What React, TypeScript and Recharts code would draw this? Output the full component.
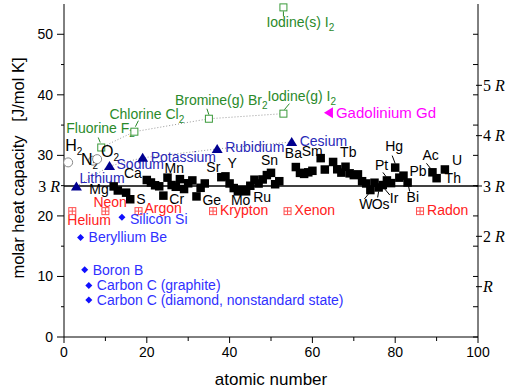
import React from "react";
import { ScatterChart, Scatter, XAxis, YAxis, ReferenceLine } from "recharts";

const R = 8.314;

// diatomic gases H2, N2, O2 (open grey circles)
const gasZ = [1, 7, 8];
const gasCp = [28.84, 29.12, 29.38];
const gasName = ["H_2", "N_2", "O_2"];

// gaseous halogens (open green squares, dotted guide)
const halogenZ = [9, 17, 35, 53];
const halogenCp = [31.3, 33.91, 36.05, 36.89];
const halogenName = ["Fluorine F_2", "Chlorine Cl_2", "Bromine(g) Br_2", "Iodine(g) I_2"];

const iodineSolidZ = [53];
const iodineSolidCp = [54.44];
const iodineSolidName = ["Iodine(s) I_2"];

// noble gases
const nobleZ = [2, 10, 18, 36, 54, 86];
const nobleCp = [20.79, 20.79, 20.79, 20.79, 20.79, 20.79];
const nobleName = ["Helium", "Neon", "Argon", "Krypton", "Xenon", "Radon"];

// alkali metals
const alkaliZ = [3, 11, 19, 37, 55];
const alkaliCp = [24.86, 28.23, 29.6, 31.06, 32.21];
const alkaliName = ["Lithium", "Sodium", "Potassium", "Rubidium", "Cesium"];

// light covalent solids
const covalentZ = [4, 5, 6, 6, 14];
const covalentCp = [16.44, 11.09, 8.52, 6.11, 19.79];
const covalentName = [
  "Beryllium Be",
  "Boron B",
  "Carbon C (graphite)",
  "Carbon C (diamond, nonstandard state)",
  "Silicon Si",
];

const gdZ = [64];
const gdCp = [37.03];
const gdName = ["Gadolinium Gd"];

// other solid elements (black squares)
const metalZ = [
  12, 13, 15, 16, 20, 21, 22, 23, 24, 25, 26, 27, 28, 29, 30, 31, 32, 33, 34,
  38, 39, 40, 41, 42, 43, 44, 45, 46, 47, 48, 49, 50, 51, 52,
  56, 57, 58, 59, 60, 62, 63, 65, 66, 67, 68, 69, 70, 71, 72, 73, 74, 75, 76,
  77, 78, 79, 80, 81, 82, 83, 89, 90, 92,
];
const metalCp = [
  24.87, 24.2, 23.84, 22.75, 25.93, 25.52, 25.06, 24.89, 23.35, 26.32, 25.1,
  24.81, 26.07, 24.44, 25.39, 25.86, 23.22, 24.64, 25.36,
  26.4, 26.53, 25.36, 24.6, 24.06, 24.27, 24.06, 24.98, 25.98, 25.35, 26.02,
  26.74, 27.11, 25.23, 25.73,
  28.07, 27.11, 26.94, 27.2, 27.45, 29.54, 27.66, 28.91, 27.7, 27.15, 28.12,
  27.03, 26.74, 26.86, 25.73, 25.36, 24.27, 25.48, 24.7, 25.1, 25.86, 25.42,
  27.98, 26.32, 26.65, 25.52, 27.2, 26.23, 27.67,
];
const metalSym = [
  "Mg", "Al", "P", "S", "Ca", "Sc", "Ti", "V", "Cr", "Mn", "Fe", "Co", "Ni", "Cu", "Zn", "Ga", "Ge", "As", "Se",
  "Sr", "Y", "Zr", "Nb", "Mo", "Tc", "Ru", "Rh", "Pd", "Ag", "Cd", "In", "Sn", "Sb", "Te",
  "Ba", "La", "Ce", "Pr", "Nd", "Sm", "Eu", "Tb", "Dy", "Ho", "Er", "Tm", "Yb", "Lu", "Hf", "Ta", "W", "Re", "Os",
  "Ir", "Pt", "Au", "Hg", "Tl", "Pb", "Bi", "Ac", "Th", "U",
];

const xTicks = [0, 10, 20, 30, 40, 50, 60, 70, 80, 90, 100];
const leftTicks = [0, 5, 10, 15, 20, 25, 30, 35, 40, 45, 50, 3 * R];
const rightMinor = [0, 5, 10, 15, 20, 25, 30, 35, 40, 45, 50];
const rightR = [1, 2, 3, 4, 5].map((k) => k * R);

type Anchor = "start" | "end";
// label offset from marker centre: dx, dy(baseline), anchor, optional leader line
const labelAt: Record<string, [number, number, Anchor, number[]?]> = {
  H_2: [-3, -11, "start"],
  N_2: [-12, 4, "start"],
  O_2: [4, -2, "start"],
  "Fluorine F_2": [-35, -14, "start", [-1, -5, -3, -10]],
  "Chlorine Cl_2": [-25, -13, "start", [1, -5, 4, -11]],
  "Bromine(g) Br_2": [-34, -14, "start", [0, -4, -2, -10]],
  "Iodine(g) I_2": [-16, -13, "start", [1, -4, 6, -10]],
  "Iodine(s) I_2": [-17, 20, "start", [0, 4, 0, 9]],
  Helium: [-5, 14, "start"],
  Neon: [-12, -4, "start"],
  Argon: [6, 1.5, "start"],
  Krypton: [7, 4, "start"],
  Xenon: [7, 4, "start"],
  Radon: [7, 4, "start"],
  Lithium: [3, -3, "start"],
  Sodium: [7, 3, "start"],
  Potassium: [8, 4, "start"],
  Rubidium: [8, 3, "start"],
  Cesium: [8, 4, "start"],
  "Beryllium Be": [8, 5, "start"],
  "Boron B": [8, 5, "start"],
  "Carbon C (graphite)": [8, 5, "start"],
  "Carbon C (diamond, nonstandard state)": [8, 5, "start"],
  "Silicon Si": [8, 6.5, "start"],
  "Gadolinium Gd": [7, 5, "start"],
  Mg: [-5, 8, "end"],
  Ca: [-5, -2, "end"],
  S: [6, 5, "start"],
  Mn: [-3, -5, "start"],
  Cr: [6, 8, "start"],
  Ge: [6, 9, "start"],
  Sr: [-1, -5, "end"],
  Y: [2, -8, "start"],
  Mo: [-7, 14, "start"],
  Ru: [7, 11, "start"],
  Sn: [-10, -8, "start"],
  Ba: [-11, -9, "start"],
  Sm: [-19, -2, "start"],
  Tb: [7, -5, "start"],
  W: [2, 19, "end", [-2, 4, -6, 9]],
  Os: [-7, 22, "start", [0, 4, -1, 10]],
  Ir: [7, 18, "start", [2, 4, 7, 10]],
  Pt: [-12, -10, "start", [-1, -4, -4, -8]],
  Hg: [-10, -17, "start", [0, -4, -3, -12]],
  Pb: [6, 0, "start"],
  Bi: [-1, 20, "start", [1, 4, 2, 9]],
  Ac: [-10, -12, "start", [-2, -4, -6, -9]],
  Th: [8, 5, "start"],
  U: [7, -4, "start"],
};

const toPts = (z: number[], cp: number[], n: string[]) =>
  z.map((x, i) => ({ x, y: cp[i], name: n[i] }));

const withSub = (s: string) => {
  const i = s.indexOf("_");
  if (i < 0) return s;
  return [
    <tspan key="a">{s.slice(0, i)}</tspan>,
    <tspan key="b" dy={4} fontSize={10}>
      {s.slice(i + 1)}
    </tspan>,
  ];
};

const drawMarker = (kind: string, cx: number, cy: number, c: string) => {
  switch (kind) {
    case "circle":
      return <circle cx={cx} cy={cy} r={4.5} fill="#fff" stroke={c} />;
    case "osquare":
      return <rect x={cx - 3.5} y={cy - 3.5} width={7} height={7} fill="#fff" stroke={c} />;
    case "plus":
      return (
        <g stroke={c} fill="none">
          <rect x={cx - 3.5} y={cy - 3.5} width={7} height={7} />
          <line x1={cx - 3.5} y1={cy} x2={cx + 3.5} y2={cy} />
          <line x1={cx} y1={cy - 3.5} x2={cx} y2={cy + 3.5} />
        </g>
      );
    case "tri":
      return <path d={`M${cx},${cy - 5}L${cx + 5.5},${cy + 4}L${cx - 5.5},${cy + 4}Z`} fill={c} />;
    case "diamond":
      return <path d={`M${cx},${cy - 3.5}L${cx + 3.5},${cy}L${cx},${cy + 3.5}L${cx - 3.5},${cy}Z`} fill={c} />;
    case "ltri":
      return <path d={`M${cx - 5},${cy}L${cx + 4},${cy - 5.5}L${cx + 4},${cy + 5.5}Z`} fill={c} />;
    default:
      return <rect x={cx - 4.25} y={cy - 4.25} width={8.5} height={8.5} fill={c} />;
  }
};

const makeShape = (kind: string, color: string, textColor: string, size = 14) => (p: any) => {
  const { cx, cy, payload } = p;
  if (kind === "none") return <g />;
  const lab = labelAt[payload.name];
  return (
    <g>
      {drawMarker(kind, cx, cy, color)}
      {lab && lab[3] && (
        <line
          x1={cx + lab[3][0]}
          y1={cy + lab[3][1]}
          x2={cx + lab[3][2]}
          y2={cy + lab[3][3]}
          stroke={textColor}
          strokeWidth={1}
        />
      )}
      {lab && (
        <text x={cx + lab[0]} y={cy + lab[1]} textAnchor={lab[2]} fill={textColor} fontSize={size}>
          {withSub(payload.name)}
        </text>
      )}
    </g>
  );
};

const rLabel = (k: number) => (
  <>
    {k > 1 ? `${k} ` : ""}
    <tspan fontStyle="italic">R</tspan>
  </>
);

const serif = "Liberation Serif, Times New Roman, serif";

const BottomTick = (p: any) => {
  const v = p.payload.value;
  const major = v % 20 === 0;
  return (
    <g>
      <line x1={p.x} y1={p.y} x2={p.x} y2={p.y + (major ? 6 : 4)} stroke="#000" />
      {major && (
        <text x={p.x} y={p.y + 20} textAnchor="middle" fontSize={14} fill="#000">
          {v}
        </text>
      )}
    </g>
  );
};

const TopTick = (p: any) => (
  <line x1={p.x} y1={p.y} x2={p.x} y2={p.y + 5} stroke="#000" />
);

const LeftTick = (p: any) => {
  const v = p.payload.value;
  if (Math.abs(v - 3 * R) < 1e-6) {
    return (
      <text x={p.x - 4} y={p.y} dy="0.35em" textAnchor="end" fontSize={16} fontFamily={serif} fill="#000">
        {rLabel(3)}
      </text>
    );
  }
  const major = v % 10 === 0;
  return (
    <g>
      <line x1={p.x} y1={p.y} x2={p.x - (major ? 7 : 3)} y2={p.y} stroke="#000" />
      {major && (
        <text x={p.x - 11} y={p.y} dy="0.35em" textAnchor="end" fontSize={14} fill="#000">
          {v}
        </text>
      )}
    </g>
  );
};

const RightTick = (p: any) => {
  const v = p.payload.value;
  const k = Math.round(v / R);
  if (k > 0 && Math.abs(v - k * R) < 1e-6) {
    return (
      <g>
        <line x1={p.x - 2} y1={p.y} x2={p.x + 4} y2={p.y} stroke="#000" />
        <text x={p.x + 5} y={p.y} dy="0.35em" fontSize={16} fontFamily={serif} fill="#000">
          {rLabel(k)}
        </text>
      </g>
    );
  }
  return <line x1={p.x} y1={p.y} x2={p.x - 5} y2={p.y} stroke="#000" />;
};

const yTitle = () => (
  <text
    x={18}
    y={168}
    transform="rotate(-90 18 168)"
    textAnchor="middle"
    dy="0.35em"
    fontSize={16.5}
    fill="#000"
    style={{ whiteSpace: "pre" }}
  >
    {"molar heat capacity\u00a0\u00a0 [J/mol K]"}
  </text>
);

const xTitle = () => (
  <text x={271} y={385} textAnchor="middle" fontSize={17} fill="#000">
    atomic number
  </text>
);

export default function App() {
  const dotted = { stroke: "#999", strokeWidth: 1, strokeDasharray: "1 2", fill: "none" };
  return (
    <div style={{ position: "absolute", left: 0, top: 0, fontFamily: "Liberation Sans, Arial, sans-serif", background: "#fff" }}>
      <ScatterChart width={510} height={392} margin={{ top: 4, right: 0, bottom: 5, left: 0 }}>
        <XAxis
          xAxisId="b"
          type="number"
          dataKey="x"
          domain={[0, 100]}
          ticks={xTicks}
          interval={0}
          tickSize={0}
          tickMargin={0}
          tickLine={false}
          tick={BottomTick}
          height={50}
          axisLine={{ stroke: "#000" }}
          label={{ content: xTitle }}
        />
        <XAxis
          xAxisId="t"
          orientation="top"
          type="number"
          dataKey="x"
          domain={[0, 100]}
          ticks={xTicks}
          interval={0}
          tickSize={0}
          tickMargin={0}
          tickLine={false}
          tick={TopTick}
          height={0}
          axisLine={{ stroke: "#000" }}
        />
        <YAxis
          yAxisId="l"
          type="number"
          dataKey="y"
          domain={[0, 55]}
          ticks={leftTicks}
          interval={0}
          tickSize={0}
          tickMargin={0}
          tickLine={false}
          tick={LeftTick}
          width={64}
          axisLine={{ stroke: "#000" }}
          label={{ content: yTitle }}
        />
        <YAxis
          yAxisId="r"
          orientation="right"
          type="number"
          dataKey="y"
          domain={[0, 55]}
          ticks={[...rightMinor, ...rightR]}
          interval={0}
          tickSize={0}
          tickMargin={0}
          tickLine={false}
          tick={RightTick}
          width={32}
          axisLine={{ stroke: "#000" }}
        />
        <ReferenceLine xAxisId="b" yAxisId="l" y={3 * R} stroke="#000" strokeWidth={1.5} />
        {/* invisible series that binds the mirror axes (top / right) */}
        <Scatter
          xAxisId="t"
          yAxisId="r"
          data={toPts(gdZ, gdCp, gdName)}
          shape={makeShape("none", "none", "none")}
          isAnimationActive={false}
        />
        <Scatter
          xAxisId="b"
          yAxisId="l"
          data={toPts(halogenZ, halogenCp, halogenName)}
          line={dotted}
          lineType="joint"
          shape={makeShape("osquare", "#3a9a3a", "#2a8a2a")}
          isAnimationActive={false}
        />
        <Scatter
          xAxisId="b"
          yAxisId="l"
          data={toPts(alkaliZ, alkaliCp, alkaliName)}
          line={dotted}
          lineType="joint"
          shape={makeShape("tri", "#000090", "#2828b8")}
          isAnimationActive={false}
        />
        <Scatter
          xAxisId="b"
          yAxisId="l"
          data={toPts(iodineSolidZ, iodineSolidCp, iodineSolidName)}
          shape={makeShape("osquare", "#3a9a3a", "#2a8a2a")}
          isAnimationActive={false}
        />
        <Scatter
          xAxisId="b"
          yAxisId="l"
          data={toPts(gasZ, gasCp, gasName)}
          shape={makeShape("circle", "#888", "#000", 16)}
          isAnimationActive={false}
        />
        <Scatter
          xAxisId="b"
          yAxisId="l"
          data={toPts(nobleZ, nobleCp, nobleName)}
          shape={makeShape("plus", "#ff5050", "#ff2020")}
          isAnimationActive={false}
        />
        <Scatter
          xAxisId="b"
          yAxisId="l"
          data={toPts(covalentZ, covalentCp, covalentName)}
          shape={makeShape("diamond", "#1010ff", "#3030ff")}
          isAnimationActive={false}
        />
        <Scatter
          xAxisId="b"
          yAxisId="l"
          data={toPts(gdZ, gdCp, gdName)}
          shape={makeShape("ltri", "#ff00ff", "#ff00ff", 15)}
          isAnimationActive={false}
        />
        <Scatter
          xAxisId="b"
          yAxisId="l"
          data={toPts(metalZ, metalCp, metalSym)}
          shape={makeShape("square", "#000", "#000")}
          isAnimationActive={false}
        />
      </ScatterChart>
    </div>
  );
}
